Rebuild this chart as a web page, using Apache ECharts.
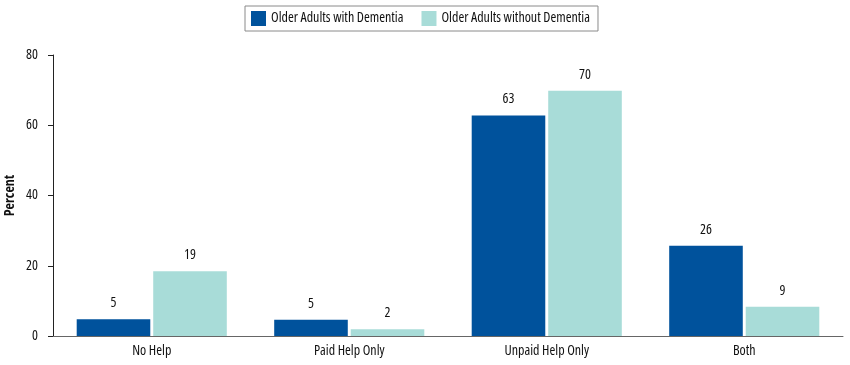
<!DOCTYPE html>
<html><head><meta charset="utf-8">
<script src="https://cdn.jsdelivr.net/npm/echarts@6/dist/echarts.min.js"></script>
<style>html,body{margin:0;padding:0;background:#fff}#c{width:850px;height:365px}</style>
</head><body><div id="c"></div>
<script>
const categories = ['No Help', 'Paid Help Only', 'Unpaid Help Only', 'Both'];
const seriesNames = ['Older Adults with Dementia', 'Older Adults without Dementia'];
const withDementia = [4.8, 4.6, 62.8, 25.7];
const withoutDementia = [18.4, 1.9, 69.8, 8.3];
const withDementiaLabels = [5, 5, 63, 26];
const withoutDementiaLabels = [19, 2, 70, 9];
const yTicks = [0, 20, 40, 60, 80];

const FONT = '"Open Sans", "DejaVu Sans", sans-serif';
const TXT = {fontFamily: FONT, fontStyle: 'condensed', fontSize: 14, color: '#111'};
const chart = echarts.init(document.getElementById('c'), null, {renderer: 'canvas'});
const mkLabel = arr => Object.assign({show: true, position: 'top', distance: 9,
  formatter: p => String(arr[p.dataIndex])}, TXT);
chart.setOption({
  animation: false,
  legend: {
    top: 6, left: 245, padding: [5, 8, 5, 6],
    borderColor: '#8a8a8a', borderWidth: 1,
    itemWidth: 15, itemHeight: 15, itemGap: 18,
    icon: 'rect',
    textStyle: Object.assign({}, TXT),
    data: seriesNames
  },
  grid: {left: 53, right: 7, top: 55, bottom: 29, containLabel: false, outerBoundsMode: 'none'},
  xAxis: {
    type: 'category', data: categories,
    axisLine: {lineStyle: {color: '#666', width: 1}},
    axisTick: {show: false},
    axisLabel: Object.assign({margin: 8}, TXT)
  },
  yAxis: {
    type: 'value', min: yTicks[0], max: yTicks[yTicks.length - 1], interval: 20,
    name: 'Percent', nameLocation: 'middle', nameGap: 36, nameMoveOverlap: false,
    nameTextStyle: Object.assign({}, TXT, {fontWeight: 'bold'}),
    axisLine: {show: true, lineStyle: {color: '#222', width: 1}},
    axisTick: {show: true, length: 5, lineStyle: {color: '#222'}},
    axisLabel: Object.assign({margin: 15}, TXT),
    splitLine: {show: false}
  },
  series: [
    {name: seriesNames[0], type: 'bar', data: withDementia, barCategoryGap: '24%', barGap: '4%',
     itemStyle: {color: '#00529c'}, label: mkLabel(withDementiaLabels)},
    {name: seriesNames[1], type: 'bar', data: withoutDementia, barCategoryGap: '24%', barGap: '4%',
     itemStyle: {color: '#a8dcd8'}, label: mkLabel(withoutDementiaLabels)}
  ]
});
</script></body></html>
